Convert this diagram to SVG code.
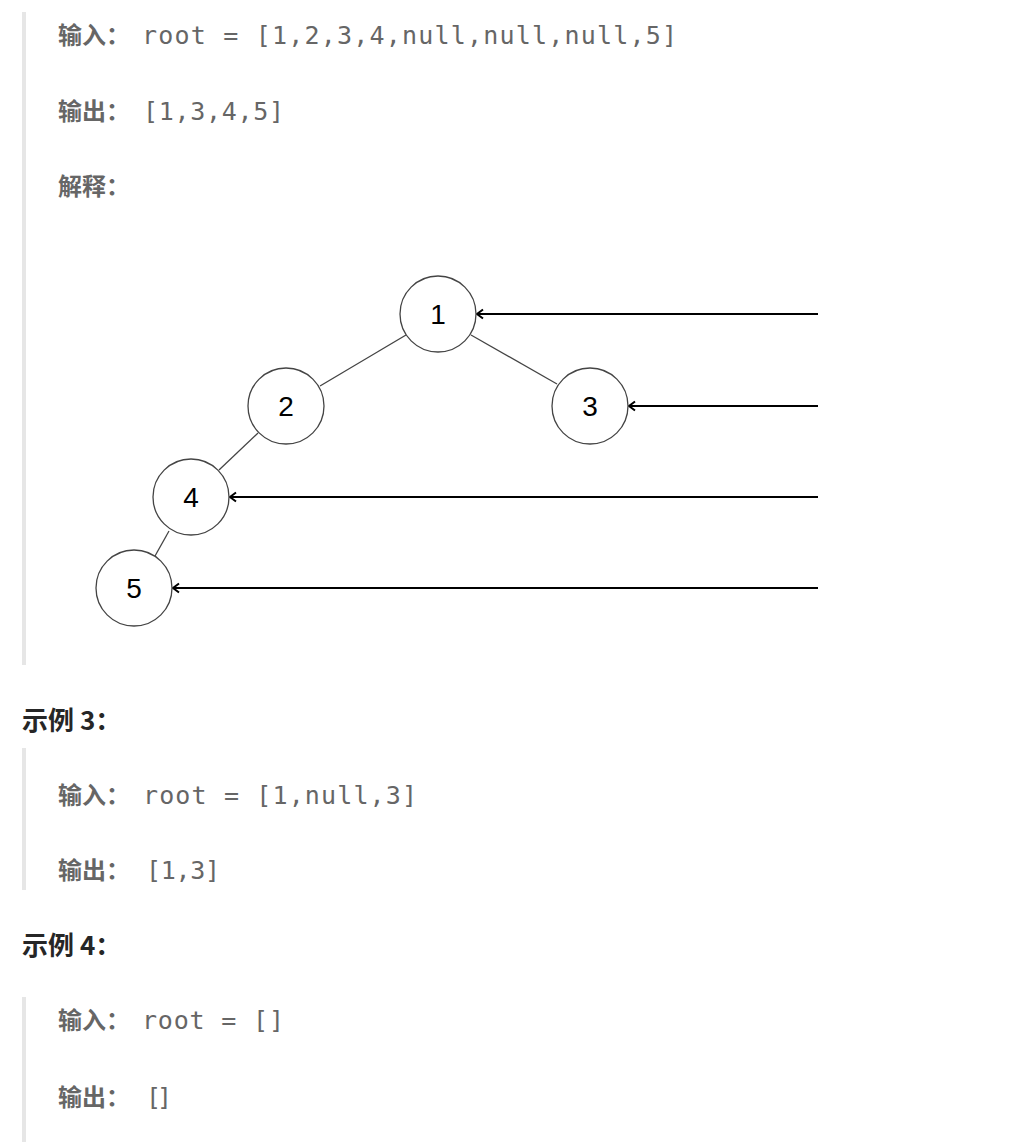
<svg xmlns="http://www.w3.org/2000/svg" width="1018" height="1142" viewBox="0 0 1018 1142">
<defs>
<style>
.bar{fill:#e6e6e6}
.lbl{font-family:"Noto Sans CJK SC","Noto Sans",sans-serif;font-weight:bold;font-size:24px;fill:#666}
.mono{font-family:"DejaVu Sans Mono","Liberation Mono",monospace;font-size:25px;fill:#666}
.head{font-family:"Noto Sans CJK SC","Noto Sans",sans-serif;font-weight:bold;font-size:26px;fill:#262626}
.node circle{fill:#fff;stroke:#444;stroke-width:1.3}
.node text{font-family:"Liberation Sans",Arial,sans-serif;font-size:28px;fill:#000;text-anchor:middle}
.edge{stroke:#444;stroke-width:1.3;fill:none}
.arrow{stroke:#000;stroke-width:2;fill:none;marker-end:url(#chev)}
</style>
<marker id="chev" viewBox="0 0 8 12" refX="7" refY="6" markerWidth="8" markerHeight="12" orient="auto" markerUnits="userSpaceOnUse">
<path d="M1,1.5 L7,6 L1,10.5" fill="none" stroke="#000" stroke-width="2"/>
</marker>
</defs>
<rect fill="#fff" width="1018" height="1142"/>
<rect class="bar" x="22" y="12" width="4" height="653"/>
<rect class="bar" x="22" y="748" width="4" height="142"/>
<rect class="bar" x="22" y="997" width="4" height="145"/>

<text class="lbl" x="58" y="44">输入：</text>
<text class="mono" x="142" y="44" textLength="535" lengthAdjust="spacing">root = [1,2,3,4,null,null,null,5]</text>
<text class="lbl" x="58" y="120">输出：</text>
<text class="mono" x="143" y="120" textLength="141" lengthAdjust="spacing">[1,3,4,5]</text>
<text class="lbl" x="58" y="195">解释：</text>

<g id="connectors">
<line class="edge" x1="406" y1="335" x2="320" y2="386"/>
<line class="edge" x1="471" y1="335" x2="557" y2="384"/>
<line class="edge" x1="258" y1="433" x2="219" y2="470"/>
<line class="edge" x1="169" y1="531" x2="155" y2="556"/>
<line class="arrow" x1="818" y1="314" x2="477" y2="314"/>
<line class="arrow" x1="818" y1="406" x2="629" y2="406"/>
<line class="arrow" x1="818" y1="497" x2="230" y2="497"/>
<line class="arrow" x1="818" y1="588" x2="173" y2="588"/>
</g>
<g id="node1" class="node"><circle cx="438" cy="314" r="38"/><text x="438" y="324">1</text></g>
<g id="node2" class="node"><circle cx="286" cy="406" r="38"/><text x="286" y="416">2</text></g>
<g id="node3" class="node"><circle cx="590" cy="406" r="38"/><text x="590" y="416">3</text></g>
<g id="node4" class="node"><circle cx="191" cy="497" r="38"/><text x="191" y="507">4</text></g>
<g id="node5" class="node"><circle cx="134" cy="588" r="38"/><text x="134" y="598">5</text></g>

<text class="head" x="22" y="730">示例 3：</text>
<text class="lbl" x="58" y="804">输入：</text>
<text class="mono" x="143" y="804" textLength="274" lengthAdjust="spacing">root = [1,null,3]</text>
<text class="lbl" x="58" y="879">输出：</text>
<text class="mono" x="146" y="879" textLength="74" lengthAdjust="spacing">[1,3]</text>

<text class="head" x="22" y="955">示例 4：</text>
<text class="lbl" x="58" y="1029">输入：</text>
<text class="mono" x="142" y="1029" textLength="142" lengthAdjust="spacing">root = []</text>
<text class="lbl" x="58" y="1106">输出：</text>
<text class="mono" x="146" y="1106" textLength="26" lengthAdjust="spacing">[]</text>
</svg>
